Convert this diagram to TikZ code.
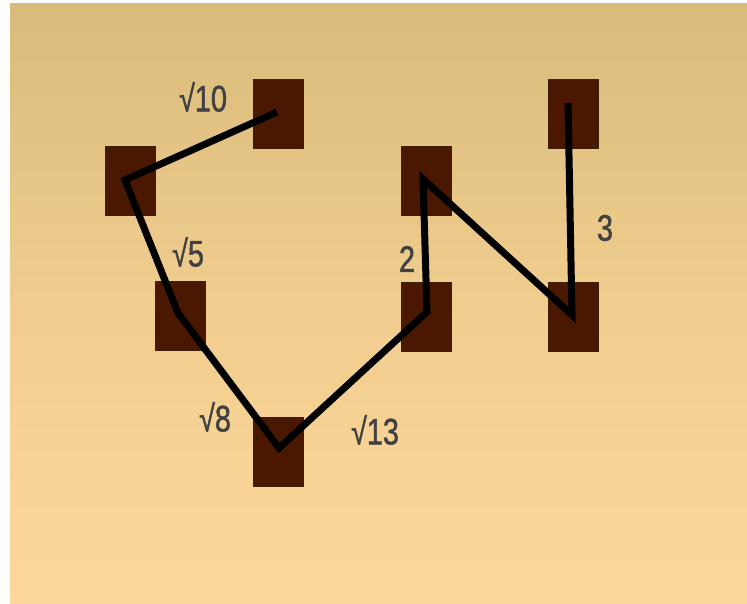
\documentclass[tikz,border=0pt]{standalone}
\usepackage{fontspec}
\setmainfont{Liberation Sans}[FakeStretch=0.78,FakeBold=1.2]
\usetikzlibrary{calc}
\definecolor{bgtop}{RGB}{216,187,122}
\definecolor{bgmid}{RGB}{240,205,142}
\definecolor{bgbot}{RGB}{253,216,156}
\definecolor{sq}{RGB}{74,24,0}
\definecolor{sqedge}{RGB}{60,30,10}
\definecolor{lbl}{RGB}{65,65,65}
\tikzset{
  tile/.style={draw=sqedge, line width=0.8pt, fill=sq, minimum width=50pt, minimum height=69pt, inner sep=0pt},
  lab/.style={text=lbl, font=\fontsize{37}{40}\selectfont, inner sep=0pt},
  pathline/.style={line width=7pt, line join=miter, line cap=butt, black}
}
\begin{document}
\begin{tikzpicture}[x=1pt,y=-1pt]
\useasboundingbox (0,0) rectangle (747,603);
\fill[white] (0,0) rectangle (747,603);
\shade[top color=bgtop, bottom color=bgmid] (10,3) rectangle (747,300);
\shade[top color=bgmid, bottom color=bgbot] (10,299.5) rectangle (747,603);
\node[tile] (A) at (278,114) {};
\node[tile] (B) at (130,181) {};
\node[tile] (C) at (180,316) {};
\node[tile] (D) at (278,452) {};
\node[tile] (E) at (426,181) {};
\node[tile] (F) at (426,317) {};
\node[tile] (G) at (573,114) {};
\node[tile] (H) at (573,317) {};
\draw[pathline] ($(A)+(-1,-2)$) -- ($(B)+(-5,-1)$) -- ($(C)+(-2,-3)$) -- ($(D)+(1,-4)$) -- ($(F)+(1,-5)$) -- ($(E)+(-3,-2)$) -- ($(H)+(-1,-2)$) -- ($(G)+(-5,-11)$);
\node[lab] (l1) at (203,97) {√10};
\node[lab] (l2) at (188,252) {√5};
\node[lab] (l3) at (215,417) {√8};
\node[lab] (l4) at (375,430) {√13};
\node[lab] (l5) at (407,259) {2};
\node[lab] (l6) at (605,228) {3};
\end{tikzpicture}
\end{document}
